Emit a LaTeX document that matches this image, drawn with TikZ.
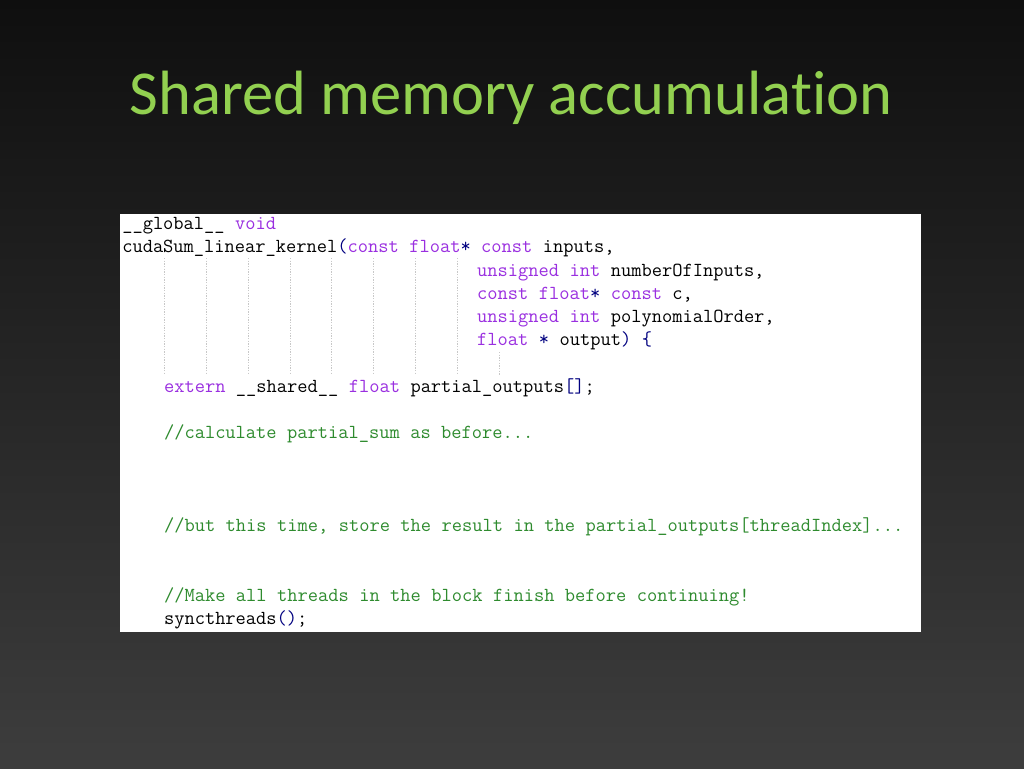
\documentclass[tikz,border=0pt]{standalone}
\usepackage{fontspec}
\setmainfont{Carlito}[Ligatures=NoCommon]
\definecolor{bgtop}{HTML}{0F0F0F}
\definecolor{bgbot}{HTML}{3D3D3D}
\definecolor{titlegreen}{HTML}{92D050}
\definecolor{kw}{HTML}{9A2FE0}
\definecolor{cm}{HTML}{2E8B2E}
\definecolor{op}{HTML}{000080}
\definecolor{guide}{HTML}{C8C8C8}
\newcommand{\kw}[1]{\textcolor{kw}{#1}}
\newcommand{\cm}[1]{\textcolor{cm}{#1}}
\newcommand{\op}[1]{\textcolor{op}{#1}}
\newcommand{\codefont}{\fontsize{14.92pt}{17pt}\selectfont\ttfamily\spaceskip=7.833pt\relax\xspaceskip=7.833pt\relax}
\tikzset{
  codeline/.style={anchor=base west, inner sep=0pt, font=\codefont, text=black},
  guideline/.style={draw=guide, line width=0.5pt, dash pattern=on 1pt off 1pt},
}
\begin{document}
\begin{tikzpicture}[x=0.75pt, y=-0.75pt]
\useasboundingbox (0,0) rectangle (1024,768);
\shade[top color=bgtop, bottom color=bgbot] (0,0) rectangle (1024,768);
\node[anchor=base, inner sep=0pt, text=titlegreen, font=\fontsize{46.9pt}{56pt}\selectfont] (title) at (511,114) {Shared memory accumulation};
\fill[white] (120,214) rectangle (921,632);
\coordinate (box) at (120,214);
% guides
\foreach \k in {1,...,8} {
  \coordinate (gt\k) at ({122+41.76*\k+1}, 258);
  \coordinate (gb\k) at ({122+41.76*\k+1}, 375);
  \draw[guideline] (gt\k) -- (gb\k);
}
\coordinate (gt9) at ({122+41.76*9+1}, 352);
\coordinate (gb9) at ({122+41.76*9+1}, 375);
\draw[guideline] (gt9) -- (gb9);
% code lines
\newcommand{\cx}[1]{122+10.44*#1}
\newcommand{\by}[1]{229.5+23.25*#1}
\node[codeline] (l1) at ({\cx{0}},{\by{0}}) {\_\_global\_\_ \kw{void}};
\node[codeline] (l2) at ({\cx{0}},{\by{1}}) {cudaSum\_linear\_kernel\op{(}\kw{const float}\op{*} \kw{const} inputs,};
\node[codeline] (l3) at ({\cx{34}},{\by{2}}) {\kw{unsigned int} numberOfInputs,};
\node[codeline] (l4) at ({\cx{34}},{\by{3}}) {\kw{const float}\op{*} \kw{const} c,};
\node[codeline] (l5) at ({\cx{34}},{\by{4}}) {\kw{unsigned int} polynomialOrder,};
\node[codeline] (l6) at ({\cx{34}},{\by{5}}) {\kw{float} \op{*} output\op{)} \op{\{}};
\node[codeline] (l8) at ({\cx{4}},{\by{7}}) {\kw{extern} \_\_shared\_\_ \kw{float} partial\_outputs\op{[]};};
\node[codeline] (l10) at ({\cx{4}},{\by{9}}) {\cm{//calculate partial\_sum as before...}};
\node[codeline] (l14) at ({\cx{4}},{\by{13}}) {\cm{//but this time, store the result in the partial\_outputs[threadIndex]...}};
\node[codeline] (l17) at ({\cx{4}},{\by{16}}) {\cm{//Make all threads in the block finish before continuing!}};
\node[codeline] (l18) at ({\cx{4}},{\by{17}}) {syncthreads\op{()};};
\end{tikzpicture}
\end{document}
